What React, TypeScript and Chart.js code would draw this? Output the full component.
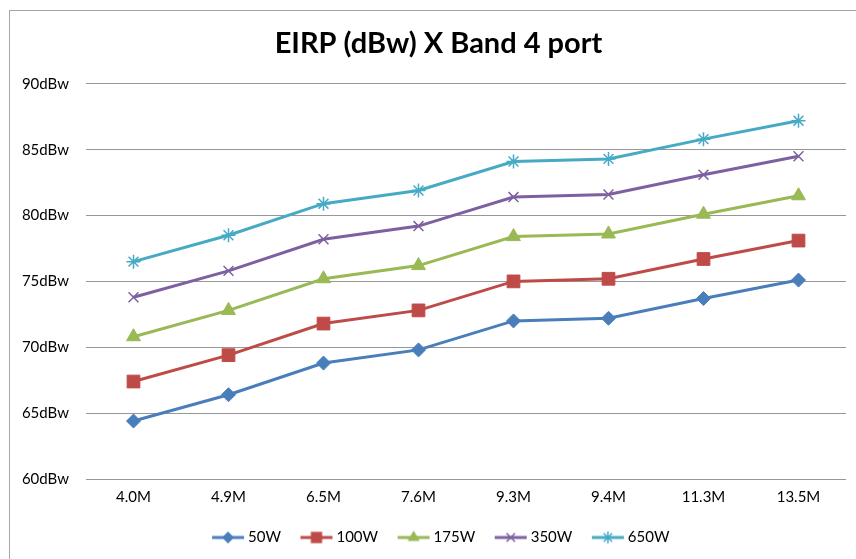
import React, { useEffect, useRef } from "react";
import { Chart, registerables } from "chart.js";

Chart.register(...registerables);

const categories = ["4.0M", "4.9M", "6.5M", "7.6M", "9.3M", "9.4M", "11.3M", "13.5M"];
const s50W = [64.4, 66.4, 68.8, 69.8, 72.0, 72.2, 73.7, 75.1];
const s100W = [67.4, 69.4, 71.8, 72.8, 75.0, 75.2, 76.7, 78.1];
const s175W = [70.8, 72.8, 75.2, 76.2, 78.4, 78.6, 80.1, 81.5];
const s350W = [73.8, 75.8, 78.2, 79.2, 81.4, 81.6, 83.1, 84.5];
const s650W = [76.5, 78.5, 80.9, 81.9, 84.1, 84.3, 85.8, 87.2];
const seriesNames = ["50W", "100W", "175W", "350W", "650W"];
const yTicks = [60, 65, 70, 75, 80, 85, 90];

const FONT = "Lato, 'Open Sans', sans-serif";
const ICON_PAD = 8;

function legendIcon(color: string, style: string, radius: number): HTMLCanvasElement {
  const c = document.createElement("canvas");
  c.width = 34 + ICON_PAD;
  c.height = 18;
  const ctx = c.getContext("2d")!;
  const ox = ICON_PAD;
  ctx.strokeStyle = color;
  ctx.lineWidth = 3;
  ctx.beginPath();
  ctx.moveTo(ox + 1, 9);
  ctx.lineTo(ox + 33, 9);
  ctx.stroke();
  ctx.fillStyle = color;
  ctx.lineWidth = style === "crossRot" || style === "star" ? 1.5 : 1;
  const x = ox + 17, y = 9, r = radius;
  ctx.beginPath();
  if (style === "rectRot") {
    ctx.moveTo(x, y - r); ctx.lineTo(x + r, y); ctx.lineTo(x, y + r); ctx.lineTo(x - r, y); ctx.closePath(); ctx.fill();
  } else if (style === "rect") {
    const s = r * Math.SQRT1_2;
    ctx.rect(x - s, y - s, 2 * s, 2 * s); ctx.fill();
  } else if (style === "triangle") {
    ctx.moveTo(x, y - r); ctx.lineTo(x + r * 0.866, y + r * 0.5); ctx.lineTo(x - r * 0.866, y + r * 0.5); ctx.closePath(); ctx.fill();
  } else if (style === "crossRot") {
    const d = r * 0.707;
    ctx.moveTo(x - d, y - d); ctx.lineTo(x + d, y + d); ctx.moveTo(x + d, y - d); ctx.lineTo(x - d, y + d); ctx.stroke();
  } else if (style === "star") {
    const d = r * 0.707;
    ctx.moveTo(x - d, y - d); ctx.lineTo(x + d, y + d); ctx.moveTo(x + d, y - d); ctx.lineTo(x - d, y + d);
    ctx.moveTo(x, y - r); ctx.lineTo(x, y + r);
    ctx.stroke();
  }
  return c;
}

const framePlugin = {
  id: "frame",
  beforeDraw(chart: any) {
    const ctx = chart.ctx;
    ctx.save();
    ctx.fillStyle = "#ffffff";
    ctx.fillRect(0, 0, chart.width, chart.height);
    ctx.strokeStyle = "#a6a6a6";
    ctx.lineWidth = 1;
    ctx.strokeRect(9.5, 10.5, chart.width + 20, chart.height + 20);
    ctx.restore();
  },
};

export default function App() {
  const ref = useRef<HTMLCanvasElement>(null);
  useEffect(() => {
    const colors = ["#4A7EBB", "#BE4B48", "#98B954", "#7D60A0", "#46AAC5"];
    const styles = ["rectRot", "rect", "triangle", "crossRot", "star"];
    const radii = [7, 9, 8, 7, 7];
    const data = [s50W, s100W, s175W, s350W, s650W];
    const icons = colors.map((c, i) => legendIcon(c, styles[i], radii[i] - 1));
    const chart = new Chart(ref.current!, {
      type: "line",
      data: {
        labels: categories,
        datasets: data.map((d, i) => ({
          label: seriesNames[i],
          data: d,
          borderColor: colors[i],
          backgroundColor: colors[i],
          borderWidth: 3,
          pointStyle: styles[i] as any,
          pointRadius: radii[i],
          pointBorderWidth: styles[i] === "crossRot" || styles[i] === "star" ? 1.5 : 1,
          pointBorderColor: colors[i],
          pointBackgroundColor: colors[i],
          tension: 0,
        })),
      },
      options: {
        responsive: false,
        animation: false,
        layout: { padding: { left: 21, right: 0, top: 0, bottom: 4 } },
        scales: {
          x: {
            offset: true,
            grid: { display: false, drawTicks: false },
            border: { display: false },
            ticks: { color: "#000", font: { family: FONT, size: 15 }, padding: 9 },
          },
          y: {
            min: 60,
            max: 90,
            afterFit(scale: any) { scale.width = 65; },
            afterBuildTicks(scale: any) { scale.ticks = yTicks.map((v) => ({ value: v })); },
            grid: { color: "#979797", lineWidth: 1, drawTicks: false },
            border: { display: false },
            ticks: {
              color: "#000",
              font: { family: FONT, size: 15 },
              padding: 17,
              callback: (v: any) => v + "dBw",
            },
          },
        },
        plugins: {
          title: {
            display: true,
            text: "EIRP (dBw) X Band 4 port",
            color: "#000",
            font: { family: FONT, size: 29, weight: "bold" },
            padding: { top: 26, bottom: 23 },
          },
          legend: {
            position: "bottom",
            labels: {
              color: "#000",
              font: { family: FONT, size: 15 },
              usePointStyle: true,
              pointStyleWidth: 25 + ICON_PAD,
              padding: 15,
              generateLabels: (ch: any) =>
                ch.data.datasets.map((ds: any, i: number) => ({
                  text: ds.label,
                  pointStyle: icons[i],
                  fillStyle: colors[i],
                  strokeStyle: colors[i],
                  lineWidth: 0,
                  hidden: false,
                  datasetIndex: i,
                  fontColor: "#000",
                })),
            },
          },
          tooltip: { enabled: false },
        },
      },
      plugins: [framePlugin],
    });
    return () => chart.destroy();
  }, []);
  return (
    <div style={{ position: "absolute", left: 0, top: 0, width: 856, height: 559 }}>
      <canvas ref={ref} width={856} height={559} style={{ display: "block" }} />
    </div>
  );
}
